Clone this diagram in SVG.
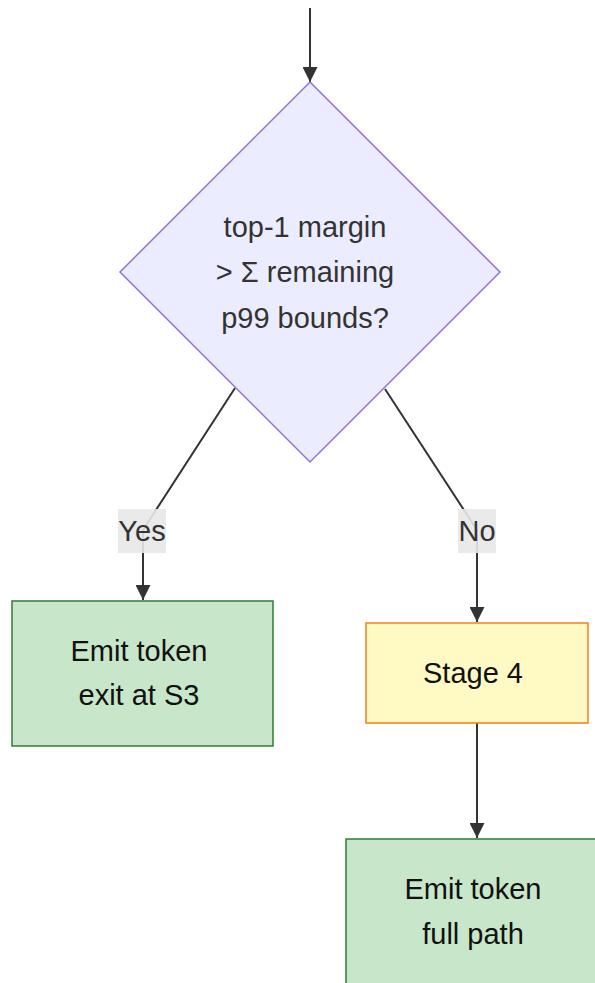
<svg xmlns="http://www.w3.org/2000/svg" width="595" height="983" viewBox="0 0 595 983">
  <style>
    .lbl { font-family: "Liberation Sans", Arial, sans-serif; font-size: 29px; text-anchor: middle; dominant-baseline: central; }
    .edge { stroke: #333333; stroke-width: 2; fill: none; }
    .elbl rect { fill: #e8e8e8; opacity: 0.9; }
    .elbl text { fill: #333333; }
  </style>
  <defs>
    <marker id="arrowhead" viewBox="0 0 12 12" refX="12" refY="6" markerWidth="15" markerHeight="15" markerUnits="userSpaceOnUse" orient="auto">
      <path d="M0,0 L12,6 L0,12 z" fill="#333333"/>
    </marker>
  </defs>

  <g id="connectors">
    <path class="edge" d="M310,8 L310,82" marker-end="url(#arrowhead)"/>
    <path class="edge" d="M235,388 L143,530 L143,600" marker-end="url(#arrowhead)"/>
    <path class="edge" d="M385,389 L477,530 L477,622" marker-end="url(#arrowhead)"/>
    <path class="edge" d="M477,723 L477,838" marker-end="url(#arrowhead)"/>
  </g>

  <g id="decision">
    <polygon points="310,82 500,272 310,462 120,272" fill="#ececff" stroke="#9370db" stroke-width="1.5"/>
    <text class="lbl" x="305" y="227" fill="#333333">top-1 margin</text>
    <text class="lbl" x="305" y="272" fill="#333333">&gt; Σ remaining</text>
    <text class="lbl" x="305" y="318" fill="#333333">p99 bounds?</text>
  </g>

  <g id="label-yes" class="elbl">
    <rect x="118" y="509" width="48" height="44"/>
    <text class="lbl" x="142" y="531">Yes</text>
  </g>

  <g id="label-no" class="elbl">
    <rect x="458" y="509" width="38" height="44"/>
    <text class="lbl" x="477" y="531">No</text>
  </g>

  <g id="exit-s3">
    <rect x="12" y="601" width="261" height="145" fill="#c8e6c9" stroke="#2e7d32" stroke-width="1.5"/>
    <text class="lbl" x="139" y="651" fill="#111111">Emit token</text>
    <text class="lbl" x="139" y="695" fill="#111111">exit at S3</text>
  </g>

  <g id="stage4">
    <rect x="366" y="623" width="222" height="100" fill="#fff9c4" stroke="#f57f17" stroke-width="1.5"/>
    <text class="lbl" x="473" y="673" fill="#111111">Stage 4</text>
  </g>

  <g id="full-path">
    <rect x="346" y="839" width="260" height="150" fill="#c8e6c9" stroke="#2e7d32" stroke-width="1.5"/>
    <text class="lbl" x="473" y="889" fill="#111111">Emit token</text>
    <text class="lbl" x="473" y="934" fill="#111111">full path</text>
  </g>
</svg>
